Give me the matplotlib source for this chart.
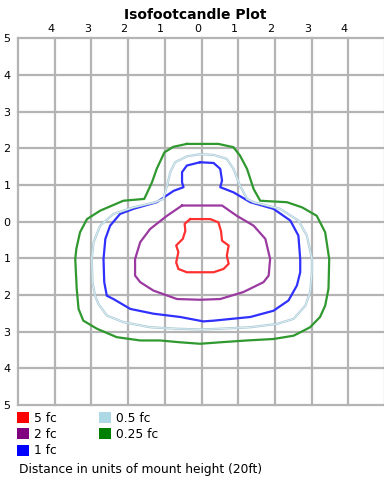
import matplotlib
matplotlib.use("Agg")
import matplotlib.pyplot as plt
import matplotlib.patches as patches

# contour outlines, in units of mount height (x across, y along)
fc5_x = [-0.31, 0.24, 0.46, 0.53, 0.56, 0.74, 0.69, 0.74, 0.60, 0.33, -0.40, -0.63, -0.69, -0.63, -0.69, -0.51, -0.44, -0.46]
fc5_y = [0.07, 0.07, -0.02, -0.25, -0.52, -0.65, -0.93, -1.15, -1.29, -1.38, -1.38, -1.29, -1.11, -0.83, -0.65, -0.47, -0.25, -0.06]

fc2_x = [-0.53, 0.56, 0.96, 1.42, 1.74, 1.87, 1.83, 1.69, 1.14, 0.51, -0.04, -0.67, -1.31, -1.67, -1.81, -1.81, -1.67, -1.40, -0.94]
fc2_y = [0.44, 0.44, 0.16, -0.11, -0.47, -1.02, -1.47, -1.65, -1.92, -2.11, -2.13, -2.11, -1.88, -1.65, -1.47, -1.02, -0.56, -0.20, 0.16]

fc1_x = [-0.04, 0.33, 0.51, 0.56, 0.51, 0.87, 1.33, 1.96, 2.42, 2.64, 2.69, 2.69, 2.60, 2.37, 1.96, 1.33, 0.33, 0.05,
         -0.58, -1.31, -1.94, -2.40, -2.58, -2.65, -2.67, -2.62, -2.49, -2.22, -1.85, -1.22, -0.76, -0.49, -0.53, -0.53, -0.40]
fc1_y = [1.62, 1.60, 1.44, 1.12, 0.94, 0.80, 0.53, 0.35, 0.03, -0.38, -1.02, -1.38, -1.74, -2.15, -2.43, -2.60, -2.70, -2.72,
         -2.60, -2.51, -2.38, -2.11, -2.02, -1.65, -1.02, -0.47, -0.11, 0.21, 0.35, 0.53, 0.84, 0.94, 1.07, 1.35, 1.53]

fc05_x = [-0.04, 0.33, 0.69, 0.87, 1.05, 1.24, 1.42, 2.14, 2.64, 2.87, 3.01, 3.01, 2.96, 2.83, 2.51, 2.05, 1.33, 0.51,
          -0.04, -0.67, -1.40, -2.13, -2.58, -2.81, -2.90, -2.97, -2.99, -2.94, -2.76, -2.40, -1.85, -1.26, -1.04, -0.94,
          -0.85, -0.72, -0.40]
fc05_y = [1.84, 1.82, 1.71, 1.44, 0.98, 0.62, 0.53, 0.35, 0.03, -0.38, -1.02, -1.38, -1.92, -2.29, -2.65, -2.79, -2.88, -2.92,
          -2.94, -2.92, -2.88, -2.74, -2.56, -2.24, -2.02, -1.65, -1.02, -0.56, -0.11, 0.21, 0.39, 0.53, 0.62, 0.98,
          1.35, 1.62, 1.78]

fc025_x = [-0.40, 0.46, 0.87, 1.05, 1.24, 1.42, 1.60, 2.33, 2.74, 3.14, 3.37, 3.48, 3.46, 3.37, 3.23, 2.96, 2.51, 1.96,
           1.24, 0.51, -0.04, -0.58, -1.13, -1.67, -2.31, -2.85, -3.22, -3.35, -3.40, -3.44, -3.41, -3.31, -3.12, -2.76,
           -2.13, -1.56, -1.35, -1.22, -1.01, -0.77]
fc025_y = [2.12, 2.12, 2.03, 1.80, 1.44, 0.89, 0.57, 0.53, 0.39, 0.16, -0.29, -1.02, -1.83, -2.29, -2.60, -2.88, -3.11, -3.20,
           -3.24, -3.29, -3.33, -3.29, -3.24, -3.24, -3.15, -2.92, -2.70, -2.38, -1.83, -1.02, -0.74, -0.29, 0.07, 0.30,
           0.57, 0.62, 1.07, 1.44, 1.89, 2.04]

levels = ["5 fc", "2 fc", "1 fc", "0.5 fc", "0.25 fc"]
colors = ["#ff0000", "#800080", "#0000ff", "#add8e6", "#008000"]
line_colors = ["#ff3030", "#9a3aa0", "#3030ff", "#a8c8d4", "#2f982f"]
outlines = [(fc5_x, fc5_y), (fc2_x, fc2_y), (fc1_x, fc1_y), (fc05_x, fc05_y), (fc025_x, fc025_y)]

x_ticks = [-4, -3, -2, -1, 0, 1, 2, 3, 4]
y_ticks = [5, 4, 3, 2, 1, 0, -1, -2, -3, -4, -5]

W, H = 384, 481
fig = plt.figure(figsize=(W / 100, H / 100), dpi=100)
fig.patch.set_facecolor("white")


def fx(px):
    return px / W


def fy(py):
    return 1 - py / H


ax = fig.add_axes([fx(18), fy(406), fx(385) - fx(18), fy(39.3) - fy(406)])
ax.set_xlim(-5, 5)
ax.set_ylim(-5, 5)
ax.set_xticks([])
ax.set_yticks([])
for s in ax.spines.values():
    s.set_visible(False)

grid_c = "#b4b4b4"
for v in range(-5, 6):
    ax.axvline(v, color=grid_c, lw=1.6, zorder=1, clip_on=False)
    ax.axhline(v, color=grid_c, lw=1.6, zorder=1, clip_on=False)

for (xs, ys), c in zip(outlines, line_colors):
    ax.plot(xs + xs[:1], ys + ys[:1], color=c, lw=1.6, zorder=3)
# pale inner stripe on the 0.5 fc outline
ax.plot(fc05_x + fc05_x[:1], fc05_y + fc05_y[:1], color="#e4f2f7", lw=0.6, zorder=4)

# axis numbers are distances, so show them unsigned
for t in x_ticks:
    ax.text(t - 0.11, 5.15, str(abs(t)), ha="center", va="bottom", fontsize=8, color="black")
for t in y_ticks:
    ax.text(-5.2, t, str(abs(t)), ha="right", va="center", fontsize=8, color="black")

fig.text(fx(195), fy(15), "Isofootcandle Plot", ha="center", va="center", fontsize=10, fontweight="bold")

# legend drawn by hand in two columns
legend_pos = [(17.3, 418), (17.3, 434.5), (17.3, 451), (99, 418), (99, 434.5)]
for (lx, ly), lab, c in zip(legend_pos, levels, colors):
    fig.patches.append(patches.Rectangle((fx(lx), fy(ly + 5.5)), fx(11.5), fy(0) - fy(11),
                                         transform=fig.transFigure, facecolor=c, edgecolor="none"))
    fig.text(fx(lx + 17), fy(ly), lab, ha="left", va="center", fontsize=8.8)

fig.text(fx(19), fy(470), "Distance in units of mount height (20ft)", ha="left", va="center", fontsize=8.8)

fig.savefig("out.png", dpi=100, facecolor="white")
